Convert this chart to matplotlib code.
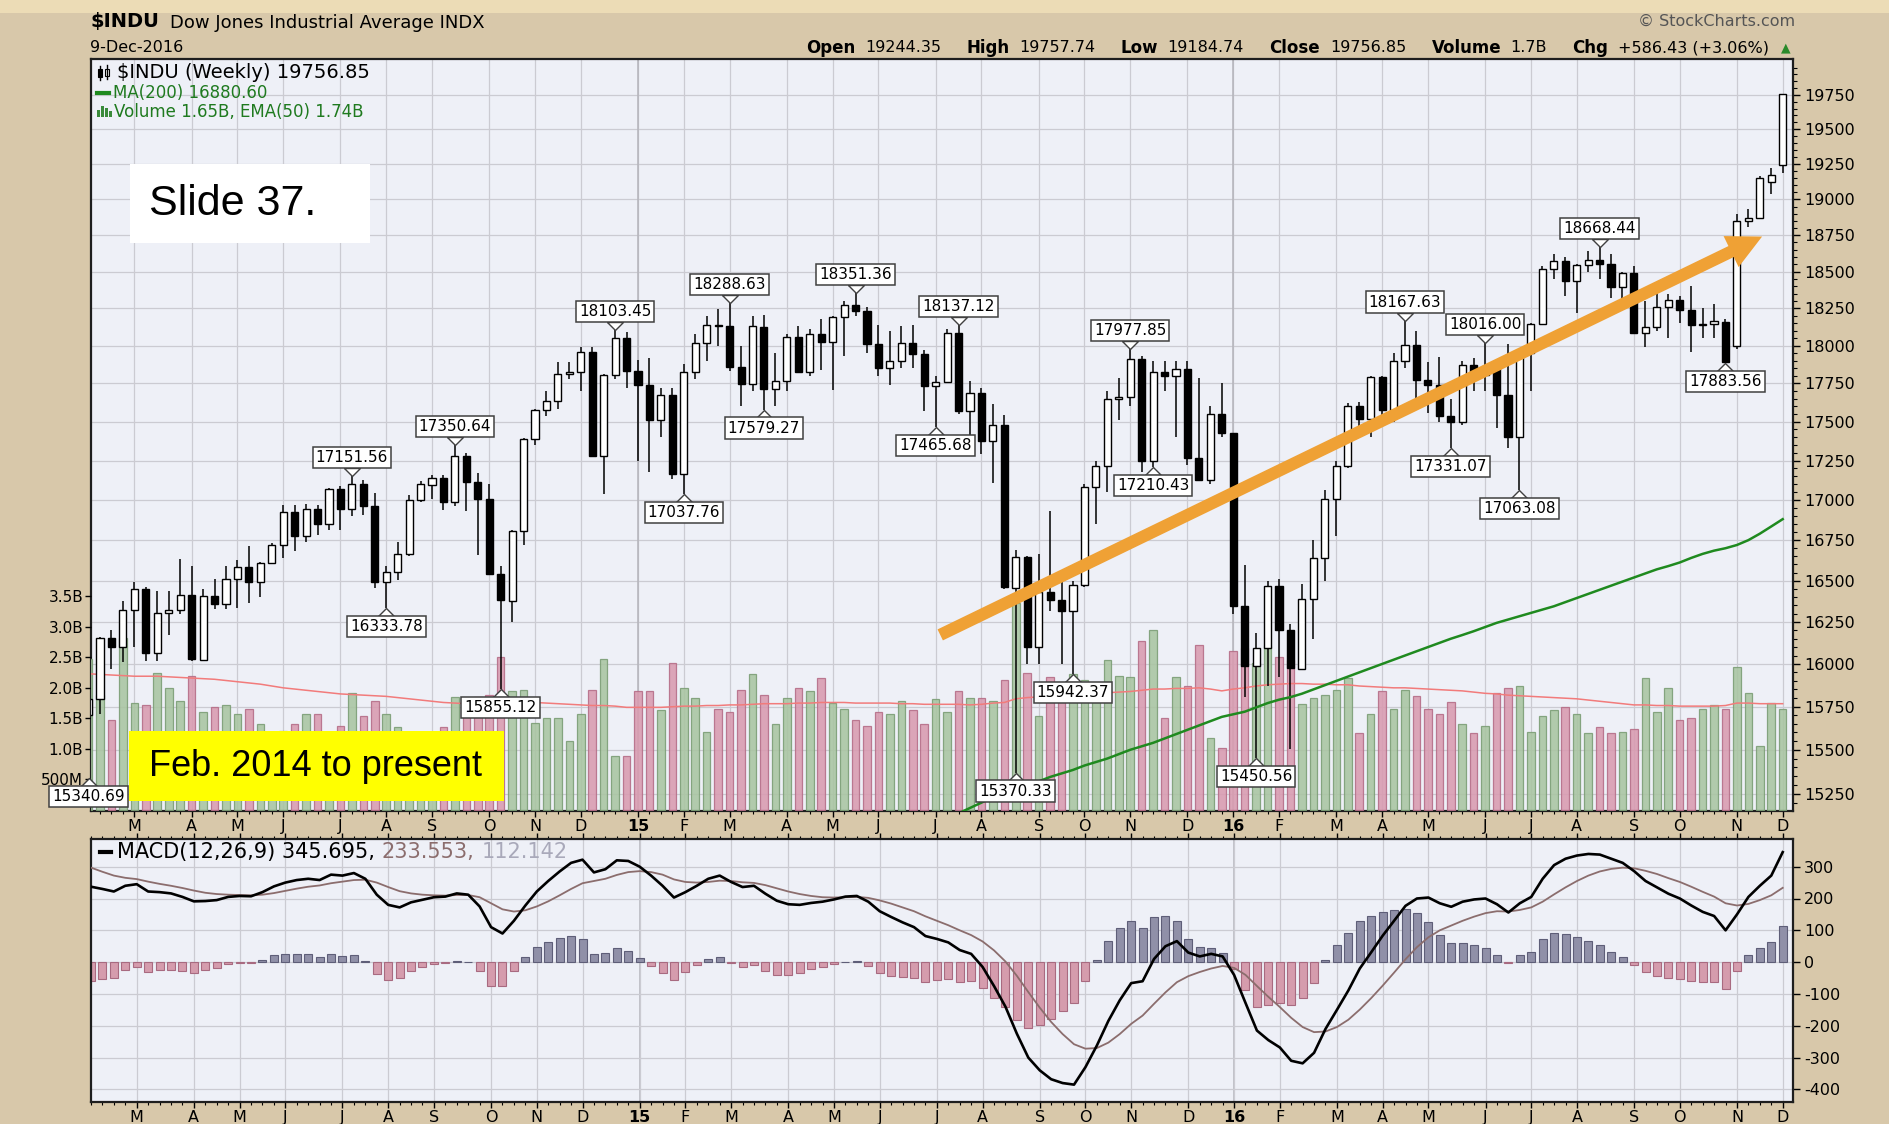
import numpy as np
import matplotlib
matplotlib.use("Agg")
import matplotlib.pyplot as plt
from matplotlib.patches import Rectangle
from matplotlib.lines import Line2D
from matplotlib.ticker import FixedLocator, NullFormatter, FuncFormatter
from matplotlib.transforms import offset_copy

W, H = 1889, 1124

# $INDU weekly candles, week ending 7-Feb-2014 ... 9-Dec-2016
opens = [15698, 15794, 16154, 16103, 16321, 16452, 16065, 16302, 16323, 16412,
         16026, 16408, 16361, 16512, 16583, 16491, 16606, 16717, 16924, 16775,
         16947, 16851, 17068, 16943, 17100, 16960, 16493, 16553, 16662, 17001,
         17098, 17137, 16987, 17279, 17113, 17009, 16544, 16380, 16805, 17390,
         17573, 17634, 17810, 17828, 17958, 17280, 17804, 18053, 17832, 17737,
         17511, 17672, 17164, 17824, 18019, 18140, 18132, 17856, 17749, 18127,
         17712, 17763, 18057, 17826, 18080, 18024, 18191, 18272, 18232, 18010,
         17849, 17898, 18015, 17946, 17730, 17760, 18086, 17568, 17689, 17373,
         17477, 16459, 16643, 16102, 16433, 16384, 16314, 16472, 17084, 17215,
         17646, 17663, 17910, 17245, 17823, 17798, 17847, 17265, 17128, 17552,
         17425, 16346, 15988, 16093, 16466, 16204, 15973, 16391, 16639, 17006,
         17213, 17602, 17515, 17792, 17576, 17897, 18003, 17773, 17740, 17535,
         17500, 17873, 17807, 17865, 17675, 17400, 17949, 18146, 18516, 18570,
         18432, 18543, 18576, 18552, 18395, 18491, 18085, 18123, 18261, 18308,
         18240, 18138, 18145, 18161, 17994, 18847, 18867, 19122, 19244.35]
highs = [15798, 16160, 16200, 16380, 16491, 16460, 16440, 16440, 16631, 16588,
         16450, 16514, 16590, 16630, 16714, 16613, 16735, 16970, 16970, 16978,
         16970, 17074, 17086, 17151.56, 17130, 17047, 16592, 16740, 17030, 17120,
         17160, 17160, 17350.64, 17300, 17170, 17100, 16593, 16810, 17395, 17580,
         17700, 17894, 17894, 17991, 17990, 17810, 18103.45, 18090, 17904, 17917,
         17720, 17720, 17880, 18080, 18200, 18244, 18288.63, 18000, 18200, 18206,
         17950, 18080, 18130, 18110, 18175, 18200, 18300, 18351.36, 18260, 18140,
         18100, 18130, 18137, 17970, 17800, 18110, 18137.12, 17768, 17720, 17613,
         17545, 16687, 16650, 16665, 16933, 16500, 16500, 17100, 17250, 17700,
         17785, 17977.85, 17930, 17900, 17900, 17900, 17900, 17785, 17602, 17750,
         17425, 16597, 16186, 16500, 16510, 16240, 16480, 16750, 17062, 17250,
         17620, 17630, 17800, 17800, 17950, 18167.63, 18100, 17893, 17926, 17650,
         17900, 17920, 18016.00, 17900, 18011, 17950, 18150, 18540, 18622, 18600,
         18550, 18640, 18668.44, 18620, 18500, 18540, 18300, 18360, 18350, 18330,
         18400, 18250, 18280, 18180, 18900, 18930, 19165, 19225, 19757.74]
lows = [15340.69, 15709, 15970, 16010, 16100, 16020, 16018, 16170, 16300, 16015,
        16015, 16330, 16330, 16333, 16365, 16400, 16600, 16640, 16683, 16740,
        16780, 16815, 16810, 16900, 16907, 16456, 16333.78, 16503, 16650, 16990,
        17010, 16940, 16960, 16934, 16658, 16540, 15855.12, 16250, 16720, 17350,
        17540, 17580, 17780, 17700, 17280, 17040, 17780, 17720, 17245, 17180,
        17400, 17136, 17037.76, 17780, 17900, 18000, 17830, 17600, 17700, 17579.27,
        17600, 17700, 17826, 17800, 17840, 17710, 17930, 18200, 17950, 17800,
        17740, 17850, 17850, 17570, 17465.68, 17760, 17550, 17370, 17290, 17110,
        16450, 15370.33, 16000, 16000, 16317, 16000, 15942.37, 16460, 16850, 17050,
        17510, 17600, 17180, 17210.43, 17700, 17400, 17220, 17120, 17100, 17400,
        16300, 15806, 15450.56, 15870, 15925, 15503, 15973, 16150, 16496, 16775,
        17200, 17460, 17400, 17480, 17500, 17850, 17642, 17558, 17500, 17331.07,
        17480, 17700, 17700, 17460, 17333, 17063.08, 17698, 18140, 18450, 18330,
        18220, 18500, 18450, 18320, 18300, 18080, 17992, 18100, 18050, 18150,
        17959, 18050, 18050, 17883.56, 17980, 18810, 18867, 19040, 19184.74]
closes = [15794.08, 16154.39, 16103.30, 16321.71, 16452.72, 16065.67, 16302.77, 16323.06, 16412.71, 16026.75,
          16408.54, 16361.46, 16512.89, 16583.34, 16491.31, 16606.27, 16717.17, 16924.28, 16775.74, 16947.08,
          16851.84, 17068.26, 16943.81, 17100.18, 16960.57, 16493.37, 16553.93, 16662.91, 17001.22, 17098.45,
          17137.36, 16987.51, 17279.74, 17113.15, 17009.69, 16544.10, 16380.41, 16805.41, 17390.52, 17573.93,
          17634.74, 17810.06, 17828.24, 17958.79, 17280.83, 17804.80, 18053.71, 17832.99, 17737.37, 17511.57,
          17672.60, 17164.95, 17824.29, 18019.35, 18140.44, 18132.70, 17856.78, 17749.31, 18127.65, 17712.66,
          17763.24, 18057.65, 17826.30, 18080.14, 18024.06, 18191.11, 18272.56, 18232.02, 18010.68, 17849.46,
          17898.84, 18015.95, 17946.68, 17730.11, 17760.41, 18086.45, 17568.53, 17689.86, 17373.38, 17477.40,
          16459.75, 16643.01, 16102.38, 16433.09, 16384.58, 16314.67, 16472.37, 17084.49, 17215.97, 17646.70,
          17663.54, 17910.33, 17245.24, 17823.81, 17798.49, 17847.63, 17265.21, 17128.55, 17552.17, 17425.03,
          16346.45, 15988.08, 16093.51, 16466.30, 16204.97, 15973.84, 16391.99, 16639.97, 17006.77, 17213.31,
          17602.30, 17515.73, 17792.75, 17576.96, 17897.46, 18003.75, 17773.64, 17740.63, 17535.32, 17500.94,
          17873.22, 17807.06, 17865.34, 17675.16, 17400.75, 17949.37, 18146.74, 18516.55, 18570.85, 18432.24,
          18543.53, 18576.47, 18552.02, 18395.40, 18491.96, 18085.45, 18123.80, 18261.45, 18308.15, 18240.49,
          18138.38, 18145.71, 18161.19, 17888.28, 18847.66, 18867.93, 19152.14, 19170.42, 19756.85]

# weekly volume, billions of shares
volume = [2.48, 1.88, 1.48, 2.82, 1.75, 1.72, 2.25, 2.00, 1.79, 2.19,
          1.60, 1.69, 1.72, 1.57, 1.66, 1.41, 1.15, 1.29, 1.41, 1.57,
          1.57, 1.00, 1.38, 1.92, 1.54, 1.79, 1.57, 1.35, 1.20, 1.10,
          1.15, 1.35, 1.85, 1.64, 1.85, 1.88, 2.51, 1.95, 1.97, 1.42,
          1.50, 1.50, 1.13, 1.57, 1.96, 2.47, 0.88, 0.88, 1.95, 1.95,
          1.64, 2.41, 2.00, 1.84, 1.28, 1.66, 1.60, 1.97, 2.23, 1.88,
          1.41, 1.84, 2.00, 1.95, 2.16, 1.75, 1.66, 1.47, 1.38, 1.60,
          1.57, 1.79, 1.63, 1.41, 1.82, 1.60, 1.95, 1.84, 1.84, 1.79,
          2.13, 3.39, 2.25, 1.54, 2.17, 1.90, 2.22, 2.13, 2.00, 2.45,
          2.19, 2.17, 2.76, 2.95, 1.51, 2.17, 2.03, 2.70, 1.17, 1.01,
          2.60, 2.65, 2.40, 2.69, 2.51, 2.45, 1.73, 1.84, 1.88, 1.97,
          2.16, 1.26, 1.57, 1.95, 1.66, 1.97, 1.86, 1.66, 1.57, 1.76,
          1.41, 1.26, 1.38, 1.91, 2.00, 2.03, 1.28, 1.54, 1.64, 1.69,
          1.57, 1.26, 1.35, 1.26, 1.28, 1.32, 2.16, 1.60, 2.00, 1.47,
          1.50, 1.66, 1.72, 1.66, 2.34, 1.92, 1.04, 1.75, 1.65]
vol_ema = [2.23, 2.22, 2.21, 2.20, 2.19, 2.19, 2.19, 2.18, 2.17, 2.16,
           2.15, 2.14, 2.12, 2.10, 2.08, 2.06, 2.03, 2.00, 1.98, 1.96,
           1.94, 1.92, 1.90, 1.89, 1.88, 1.87, 1.86, 1.84, 1.82, 1.80,
           1.78, 1.76, 1.75, 1.74, 1.74, 1.74, 1.75, 1.76, 1.76, 1.76,
           1.75, 1.74, 1.73, 1.72, 1.71, 1.71, 1.70, 1.68, 1.68, 1.68,
           1.68, 1.69, 1.70, 1.70, 1.71, 1.71, 1.72, 1.72, 1.73, 1.74,
           1.74, 1.74, 1.75, 1.75, 1.76, 1.76, 1.76, 1.75, 1.75, 1.75,
           1.75, 1.74, 1.74, 1.73, 1.73, 1.73, 1.73, 1.72, 1.73, 1.75,
           1.76, 1.82, 1.84, 1.85, 1.88, 1.89, 1.90, 1.91, 1.91, 1.92,
           1.93, 1.94, 1.96, 1.98, 1.98, 1.99, 1.99, 2.00, 1.98, 1.95,
           1.98, 2.00, 2.03, 2.05, 2.06, 2.07, 2.07, 2.06, 2.06, 2.05,
           2.05, 2.03, 2.02, 2.01, 2.00, 2.00, 1.99, 1.98, 1.97, 1.96,
           1.95, 1.93, 1.91, 1.90, 1.88, 1.87, 1.86, 1.85, 1.84, 1.83,
           1.82, 1.80, 1.78, 1.76, 1.74, 1.72, 1.72, 1.71, 1.71, 1.70,
           1.70, 1.70, 1.70, 1.71, 1.75, 1.75, 1.74, 1.74, 1.74]

# MA(200), visible from week 75 on
ma200_start = 75
ma200 = [15110, 15140, 15170, 15200, 15230, 15262, 15290, 15305, 15320, 15345,
         15365, 15385, 15410, 15430, 15450, 15475, 15500, 15520, 15540, 15565,
         15590, 15615, 15640, 15665, 15690, 15705, 15720, 15745, 15770, 15790,
         15805, 15825, 15850, 15875, 15900, 15925, 15950, 15975, 16000, 16025,
         16050, 16075, 16100, 16125, 16150, 16172, 16195, 16220, 16245, 16265,
         16285, 16305, 16325, 16345, 16370, 16395, 16420, 16445, 16470, 16495,
         16520, 16545, 16570, 16590, 16612, 16640, 16665, 16685, 16700, 16720,
         16750, 16790, 16835, 16880.60]

macd = [237, 230, 222, 240, 245, 222, 220, 216, 205, 191,
        192, 195, 205, 208, 207, 220, 238, 250, 258, 262,
        258, 275, 272, 280, 262, 212, 180, 172, 188, 196,
        204, 206, 216, 212, 175, 110, 90, 130, 178, 222,
        255, 285, 312, 322, 282, 292, 320, 318, 300, 272,
        240, 203, 220, 240, 262, 272, 252, 236, 240, 215,
        193, 182, 180, 186, 190, 197, 206, 208, 190, 160,
        142, 125, 110, 82, 73, 62, 38, 26, -15, -75,
        -140, -225, -300, -340, -368, -380, -385, -330, -262, -185,
        -120, -66, -60, 10, 50, 66, 30, 18, 26, 18,
        -40, -128, -215, -245, -268, -310, -318, -285, -210, -150,
        -89, -20, 31, 83, 130, 177, 200, 203, 185, 174,
        190, 197, 200, 182, 156, 185, 205, 262, 305, 325,
        335, 340, 338, 325, 312, 286, 255, 235, 215, 200,
        178, 158, 145, 100, 150, 205, 240, 272, 345.695]
signal = [297, 284, 272, 265, 261, 253, 246, 240, 233, 225,
          218, 214, 212, 211, 210, 212, 217, 224, 231, 237,
          241, 248, 253, 258, 259, 250, 236, 223, 216, 212,
          210, 209, 211, 211, 204, 185, 166, 159, 163, 175,
          191, 210, 230, 248, 255, 262, 274, 283, 286, 283,
          275, 260, 252, 250, 252, 256, 255, 251, 249, 242,
          232, 222, 214, 208, 204, 203, 204, 205, 202, 194,
          184, 172, 160, 144, 130, 116, 100, 85, 65, 37,
          2, -43, -94, -143, -188, -226, -258, -272, -270, -253,
          -226, -194, -168, -131, -95, -63, -44, -31, -20, -12,
          -18, -40, -75, -109, -141, -175, -204, -220, -218, -204,
          -181, -149, -113, -74, -33, 9, 47, 78, 100, 115,
          130, 143, 154, 160, 159, 164, 172, 190, 213, 235,
          255, 272, 285, 293, 297, 295, 287, 277, 264, 252,
          237, 221, 206, 185, 178, 183, 195, 210, 233.553]

month_pos = [4, 9, 13, 17, 22, 26, 30, 35, 39, 43, 48, 52, 56, 61, 65, 69, 74,
             78, 83, 87, 91, 96, 100, 104, 109, 113, 117, 122, 126, 130, 135, 139, 144, 148]
month_lab = ['M', 'A', 'M', 'J', 'J', 'A', 'S', 'O', 'N', 'D', '15', 'F', 'M', 'A', 'M', 'J', 'J',
             'A', 'S', 'O', 'N', 'D', '16', 'F', 'M', 'A', 'M', 'J', 'J', 'A', 'S', 'O', 'N', 'D']

lab_idx = [0, 23, 26, 32, 36, 46, 52, 56, 59, 67, 74, 76, 81, 86, 91, 93, 102, 115, 119, 122, 125, 132, 143]
lab_val = [15340.69, 17151.56, 16333.78, 17350.64, 15855.12, 18103.45, 17037.76, 18288.63, 17579.27,
           18351.36, 17465.68, 18137.12, 15370.33, 15942.37, 17977.85, 17210.43, 15450.56, 18167.63,
           17331.07, 18016.00, 17063.08, 18668.44, 17883.56]
lab_side = [-1, 1, -1, 1, -1, 1, -1, 1, -1, 1, -1, 1, -1, -1, 1, -1, -1, 1, -1, 1, -1, 1, -1]

BG = '#d8c8aa'
PANEL = '#eef0f7'
GRID = '#cbcbd2'
YEARGRID = '#b4b4bb'
XL = (0.21, 148.9)

fig = plt.figure(figsize=(W / 100, H / 100), dpi=100)
fig.patch.set_facecolor(BG)
fig.patches.append(Rectangle((0, 1 - 13 / H), 1, 13 / H, transform=fig.transFigure,
                             fc='#ecdcb6', ec='none', zorder=0))


def px(xp, yp):
    return xp / W, 1 - yp / H


# ---- price panel: background/grid, volume, candles
ax_bg = fig.add_axes([91 / W, 1 - 811 / H, 1702 / W, 752.5 / H])
ax_vol = ax_bg.twinx()
ax_c = ax_bg.twinx()

x = np.arange(len(closes))
o = np.array(opens)
hi = np.array(highs)
lo = np.array(lows)
c = np.array(closes)

ax_bg.set_facecolor(PANEL)
ax_bg.set_yscale('log')
ax_bg.set_ylim(15153, 20017)
ax_bg.set_xlim(*XL)
price_ticks = list(range(15250, 19751, 250))
ax_bg.yaxis.set_major_locator(FixedLocator(price_ticks))
ax_bg.yaxis.set_major_formatter(FuncFormatter(lambda v, p: '%d' % round(v)))
ax_bg.yaxis.set_minor_locator(FixedLocator([v for v in range(15200, 20001, 50) if v % 250]))
ax_bg.yaxis.set_minor_formatter(NullFormatter())
ax_bg.yaxis.tick_right()
ax_bg.tick_params(axis='y', which='major', direction='out', length=5, width=1, pad=3,
                  labelsize=11.5, right=True, left=False, labelright=True, labelleft=False)
ax_bg.tick_params(axis='y', which='minor', direction='out', length=3, width=0.8, right=True, left=False)
ax_bg.set_xticks(month_pos, month_lab)
ax_bg.set_xticks(x, minor=True)
ax_bg.tick_params(axis='x', which='major', direction='out', length=4, width=1, pad=2, labelsize=11.5)
ax_bg.tick_params(axis='x', which='minor', direction='out', length=2.5, width=0.8)
ax_bg.grid(True, which='major', color=GRID, lw=0.9)
for yx in (48, 100):
    ax_bg.axvline(yx, color=YEARGRID, lw=1.1)
for t in ax_bg.get_xticklabels():
    if t.get_text() in ('15', '16'):
        t.set_fontweight('bold')
for s in ax_bg.spines.values():
    s.set_color('#1e1e1e')
    s.set_linewidth(1.6)

# volume
ax_vol.set_ylim(-0.018, 12.31)
ax_vol.set_xlim(*XL)
vol_up = [True] + [c[k] >= c[k - 1] for k in range(1, len(c))]
ax_vol.bar(x, volume, width=0.66, color=['#a9c5a2' if u else '#d99bb0' for u in vol_up],
           edgecolor=['#7a9d74' if u else '#b56c86' for u in vol_up], lw=0.9, alpha=0.88, zorder=2)
ax_vol.plot(x, vol_ema, color='#f27b7b', lw=1.1, zorder=3)
ax_vol.yaxis.tick_left()
ax_vol.yaxis.set_label_position('left')
ax_vol.set_yticks([0.5, 1.0, 1.5, 2.0, 2.5, 3.0, 3.5],
                  ['500M', '1.0B', '1.5B', '2.0B', '2.5B', '3.0B', '3.5B'])
ax_vol.tick_params(axis='y', direction='out', length=4, width=1, pad=1.5, labelsize=11,
                   left=True, right=False, labelleft=True, labelright=False)
for s in ax_vol.spines.values():
    s.set_visible(False)

# candles
ax_c.set_yscale('log')
ax_c.set_ylim(15153, 20017)
ax_c.set_xlim(*XL)
ax_c.yaxis.set_visible(False)
for s in ax_c.spines.values():
    s.set_visible(False)
up = c > o
body_lo = np.minimum(o, c)
body_hi = np.maximum(o, c)
ax_c.vlines(x, lo, hi, color='black', lw=1.1, zorder=2)
ax_c.bar(x, body_hi - body_lo, bottom=body_lo, width=0.62,
         color=['white' if u else 'black' for u in up], edgecolor='black', lw=1.0, zorder=3)
ax_c.plot(np.arange(ma200_start, ma200_start + len(ma200)), ma200, color='#1f8a1f', lw=1.8, zorder=4)

# peak / trough labels
for idx, val, side in zip(lab_idx, lab_val, lab_side):
    ax_c.annotate('%.2f' % val, xy=(idx, val), xytext=(0, 11 * side), textcoords='offset pixels',
                  ha='center', va='bottom' if side > 0 else 'top', fontsize=11,
                  bbox=dict(boxstyle='square,pad=0.2', fc='white', ec='#404040', lw=1.1),
                  annotation_clip=False, zorder=9)
    tr = offset_copy(ax_c.transData, fig=fig, x=0, y=8 * side, units='dots')
    mk = [(-1, 0), (1, 0), (0, -side), (-1, 0)]
    ax_c.plot([idx], [val], marker=mk, ms=11.5, mfc='white', mec='#404040', mew=1.0,
              transform=tr, clip_on=False, zorder=8)

# orange trend arrow
ax_c.annotate('', xy=(146.2, 18741), xytext=(74.4, 16173),
              arrowprops=dict(arrowstyle='simple,head_length=0.62,head_width=0.62,tail_width=0.22',
                              mutation_scale=40, fc='#efa135', ec='none', lw=0,
                              shrinkA=0, shrinkB=0), zorder=10)

# ---- MACD panel
ax_m = fig.add_axes([91 / W, 1 - 1101.5 / H, 1702 / W, 262.5 / H])
ax_m.set_facecolor(PANEL)
ax_m.set_xlim(*XL)
ax_m.set_ylim(-438, 387)
hist = np.array(macd) - np.array(signal)
pos = hist >= 0
ax_m.bar(x, hist, width=0.7, color=np.where(pos, '#9090a8', '#d59cad'),
         edgecolor=np.where(pos, '#5e5e78', '#a86a80'), lw=0.8, zorder=2)
ax_m.plot(x, signal, color='#8b6d6d', lw=1.3, zorder=3)
ax_m.plot(x, macd, color='black', lw=1.9, zorder=4)
ax_m.set_yticks(range(-400, 301, 100), ['%d' % v for v in range(-400, 301, 100)])
ax_m.yaxis.tick_right()
ax_m.tick_params(axis='y', direction='out', length=5, width=1, pad=3, labelsize=11.5)
ax_m.set_xticks(month_pos, month_lab)
ax_m.set_xticks(x, minor=True)
ax_m.tick_params(axis='x', which='major', direction='out', length=4, width=1, pad=2,
                 labelsize=11.5, top=True, bottom=True)
ax_m.tick_params(axis='x', which='minor', direction='out', length=2.5, width=0.8, top=True, bottom=True)
ax_m.grid(True, which='major', color=GRID, lw=0.9)
ax_m.set_axisbelow(True)
for yx in (48, 100):
    ax_m.axvline(yx, color=YEARGRID, lw=1.1, zorder=0.5)
for t in ax_m.get_xticklabels():
    if t.get_text() in ('15', '16'):
        t.set_fontweight('bold')
for s in ax_m.spines.values():
    s.set_color('#1e1e1e')
    s.set_linewidth(1.6)

renderer = fig.canvas.get_renderer()


def seq_text(parts, x0, y0, size, gap):
    xp = x0
    for txt, col, wt in parts:
        t = fig.text(*px(xp, y0), txt, fontsize=size, color=col, fontweight=wt, va='center', ha='left')
        xp += t.get_window_extent(renderer).width + gap
    return xp


# ---- header
fig.text(*px(90, 22), '$INDU', fontsize=14, fontweight='bold', va='center')
fig.text(*px(170, 23), 'Dow Jones Industrial Average INDX', fontsize=13, va='center')
fig.text(*px(90, 47), '9-Dec-2016', fontsize=11.5, va='center')
fig.text(*px(1795, 21), '\u00a9 StockCharts.com', fontsize=11.5, color='#555555', ha='right', va='center')

# quote row, spread between the reference's left and right ends
row = [('Open', True), ('19244.35', False), ('High', True), ('19757.74', False),
       ('Low', True), ('19184.74', False), ('Close', True), ('19756.85', False),
       ('Volume', True), ('1.7B', False), ('Chg', True), ('+586.43 (+3.06%)', False)]
row_txt = []
for txt, b in row:
    row_txt.append(fig.text(0, 1 - 48 / H, txt, fontsize=12 if b else 11.5,
                            fontweight='bold' if b else 'normal', va='center', ha='left'))
widths = [t.get_window_extent(renderer).width for t in row_txt]
inner = (1777 - 806 - sum(widths)) / (len(row) - 1)
xp = 806
for k, t in enumerate(row_txt):
    t.set_x(xp / W)
    small_gap = inner * 0.55 if row[k][1] else inner * 1.45
    xp += widths[k] + small_gap
fig.text(*px(1781, 48), '\u25b2', fontsize=9, color='#2a8a2a', va='center', ha='left')

# ---- in-chart legend
fig.add_artist(Line2D([100 / W, 100 / W], [1 - 66 / H, 1 - 80 / H], color='black', lw=1, transform=fig.transFigure))
fig.add_artist(Rectangle(px(98, 77), 4 / W, 8 / H, transform=fig.transFigure, fc='black', ec='black', lw=0.8))
fig.add_artist(Line2D([107 / W, 107 / W], [1 - 65 / H, 1 - 79 / H], color='black', lw=1, transform=fig.transFigure))
fig.add_artist(Rectangle(px(105, 76), 4 / W, 7 / H, transform=fig.transFigure, fc='white', ec='black', lw=0.8))
fig.text(*px(117, 72), '$INDU (Weekly) 19756.85', fontsize=14, va='center')
fig.add_artist(Line2D([97 / W, 109 / W], [1 - 93 / H, 1 - 93 / H], color='#1f8a1f', lw=3, transform=fig.transFigure))
fig.text(*px(113, 93), 'MA(200) 16880.60', fontsize=12, color='#1f7a1f', va='center')
for bx, bh in ((97, 7), (101, 11), (105, 9), (109, 6)):
    fig.add_artist(Rectangle(px(bx, 117), 3 / W, bh / H, transform=fig.transFigure,
                             fc='#3a8a3a', ec='none'))
fig.text(*px(114, 112), 'Volume 1.65B, EMA(50) 1.74B', fontsize=12, color='#1f7a1f', va='center')

# MACD legend
fig.add_artist(Line2D([100 / W, 111 / W], [1 - 852 / H, 1 - 852 / H], color='black', lw=3, transform=fig.transFigure))
seq_text([('MACD(12,26,9) 345.695,', 'black', 'normal'), ('233.553,', '#8b6d6d', 'normal'),
          ('112.142', '#a9a9ba', 'normal')], 117, 852, 15, 7)

# ---- slide overlays
fig.patches.append(Rectangle(px(130, 243), 240 / W, 79 / H, transform=fig.transFigure,
                             fc='white', ec='none', zorder=20))
fig.text(*px(149, 204), 'Slide 37.', fontsize=31, family='Liberation Sans', va='center', ha='left', zorder=21)
fig.patches.append(Rectangle(px(129, 801), 375 / W, 70 / H, transform=fig.transFigure,
                             fc='#ffff00', ec='none', zorder=20))
fig.text(*px(149, 767), 'Feb. 2014 to present', fontsize=26, family='Liberation Sans',
         va='center', ha='left', zorder=21)

fig.savefig('out.png', dpi=100, facecolor=fig.get_facecolor())
